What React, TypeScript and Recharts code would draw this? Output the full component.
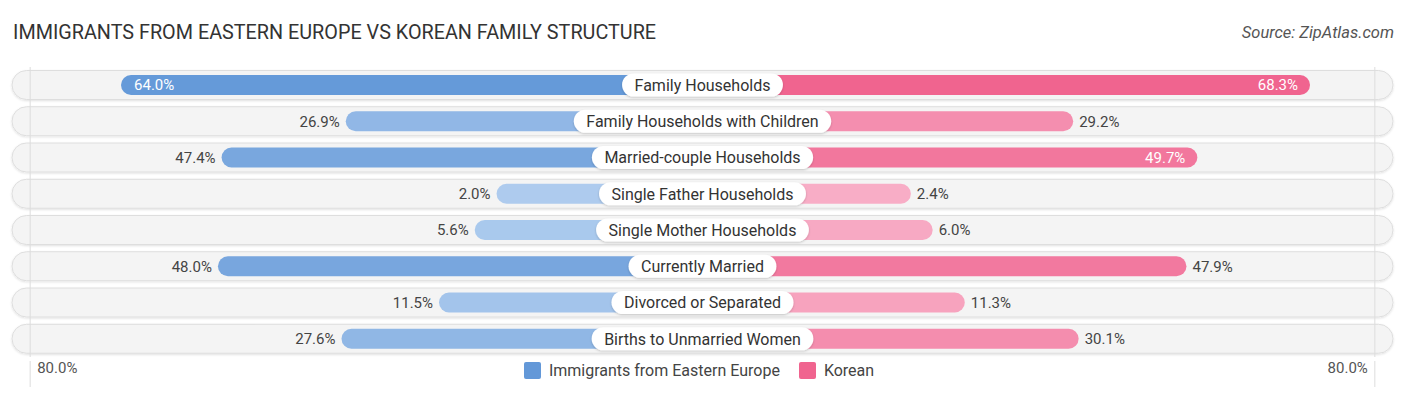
import { BarChart, Bar, XAxis, YAxis, Cell, LabelList, ReferenceLine } from 'recharts';

const categories = [
  'Family Households',
  'Family Households with Children',
  'Married-couple Households',
  'Single Father Households',
  'Single Mother Households',
  'Currently Married',
  'Divorced or Separated',
  'Births to Unmarried Women',
];
const easternEurope = [64.0, 26.9, 47.4, 2.0, 5.6, 48.0, 11.5, 27.6];
const korean = [68.3, 29.2, 49.7, 2.4, 6.0, 47.9, 11.3, 30.1];
const axisMax = 80;
const seriesNames = ['Immigrants from Eastern Europe', 'Korean'];

// space reserved in the middle for the category pill, in % units
const OFFSET = 32;
const HALF = 114;
const GRID = 111;

const W = 1406;
const H = 395;
const FONT = 'Roboto, "Open Sans", sans-serif';

const data = categories.map((name, i) => ({ name, left: easternEurope[i], right: korean[i] }));

const BLUE_DARK = '#6398d8';
const BLUE_LIGHT = '#b0cdef';
const PINK_DARK = '#f0648f';
const PINK_LIGHT = '#f8b0c8';

function hex(c: string) {
  return [1, 3, 5].map((i) => parseInt(c.slice(i, i + 2), 16));
}
function mix(a: string, b: string, t: number) {
  const A = hex(a);
  const B = hex(b);
  const k = Math.max(0, Math.min(1, t));
  return 'rgb(' + A.map((v, i) => Math.round(v * k + B[i] * (1 - k))).join(',') + ')';
}

let ctx: CanvasRenderingContext2D | null = null;
function textWidth(s: string, font: string) {
  if (!ctx) ctx = document.createElement('canvas').getContext('2d');
  if (!ctx) return s.length * 8;
  ctx.font = font;
  return ctx.measureText(s).width;
}

function Track(props: any) {
  const { x, y, width, height } = props;
  const h = 29;
  const ty = y + height / 2 - h / 2;
  return (
    <rect
      x={x}
      y={ty}
      width={width}
      height={h}
      rx={h / 2}
      fill="#f4f4f4"
      stroke="#dedede"
      strokeWidth={1}
      filter="url(#trackShadow)"
    />
  );
}

function valueLabel(side: 'left' | 'right') {
  return (props: any) => {
    const { x, y, width, height, value } = props;
    const x0 = Math.min(Number(x), Number(x) + Number(width));
    const x1 = Math.max(Number(x), Number(x) + Number(width));
    const cy = Number(y) + Number(height) / 2;
    const inside = value > 49;
    let tx: number;
    let anchor: 'start' | 'end';
    if (side === 'left') {
      tx = inside ? x0 + 13 : x0 - 6;
      anchor = inside ? 'start' : 'end';
    } else {
      tx = inside ? x1 - 12 : x1 + 6;
      anchor = inside ? 'end' : 'start';
    }
    return (
      <text
        x={tx}
        y={cy}
        dy="0.36em"
        textAnchor={anchor}
        fill={inside ? '#ffffff' : '#444444'}
        fontSize={15}
        fontFamily={FONT}
      >
        {Number(value).toFixed(1)}%
      </text>
    );
  };
}

function CategoryPill(props: any) {
  const { x, y, width, height, value } = props;
  const cx = Math.min(Number(x), Number(x) + Number(width));
  const cy = Number(y) + Number(height) / 2;
  const tw = textWidth(String(value), `16px ${FONT}`);
  const pw = tw + 25;
  const ph = 23;
  return (
    <g>
      <rect
        x={cx - pw / 2}
        y={cy - ph / 2}
        width={pw}
        height={ph}
        rx={ph / 2}
        fill="#ffffff"
        filter="url(#pillShadow)"
      />
      <text x={cx} y={cy} dy="0.36em" textAnchor="middle" fill="#333333" fontSize={16} fontFamily={FONT}>
        {value}
      </text>
    </g>
  );
}

function AxisTick(props: any) {
  const { x, y, payload } = props;
  const isLeft = payload.value < 0;
  return (
    <g>
      <line x1={x} x2={x} y1={y - 4} y2={y + 22} stroke="#dddddd" strokeWidth={1} />
      <text
        x={isLeft ? x + 7 : x - 7}
        y={y + 8}
        textAnchor={isLeft ? 'start' : 'end'}
        fill="#555555"
        fontSize={15}
        fontFamily={FONT}
      >
        {axisMax.toFixed(1)}%
      </text>
    </g>
  );
}

export default function App() {
  return (
    <div style={{ position: 'absolute', left: 0, top: 0, width: W, height: H, fontFamily: FONT, background: '#fff' }}>
      <div style={{ position: 'absolute', left: 13, top: 21, fontSize: 19.8, color: '#333', letterSpacing: 0 }}>
        IMMIGRANTS FROM EASTERN EUROPE VS KOREAN FAMILY STRUCTURE
      </div>
      <div style={{ position: 'absolute', right: 12, top: 23, fontSize: 16.5, color: '#555', fontStyle: 'italic' }}>
        Source: ZipAtlas.com
      </div>

      <BarChart
        width={W}
        height={H}
        data={data}
        layout="vertical"
        stackOffset="sign"
        barSize={20}
        margin={{ top: 67, right: 13, bottom: 18, left: 12 }}
      >
        <defs>
          <filter id="trackShadow" x="-5%" y="-30%" width="110%" height="160%">
            <feDropShadow dx="0" dy="1" stdDeviation="1" floodColor="#000" floodOpacity="0.12" />
          </filter>
          <filter id="pillShadow" x="-20%" y="-40%" width="140%" height="180%">
            <feDropShadow dx="0" dy="1" stdDeviation="1.2" floodColor="#000" floodOpacity="0.2" />
          </filter>
        </defs>
        <ReferenceLine x={-GRID} stroke="#dddddd" strokeWidth={1} />
        <ReferenceLine x={GRID} stroke="#dddddd" strokeWidth={1} />
        <XAxis
          type="number"
          domain={[-HALF, HALF]}
          ticks={[-GRID, GRID]}
          axisLine={false}
          tickLine={false}
          height={20}
          tick={<AxisTick />}
        />
        <YAxis type="category" dataKey="name" hide />
        <Bar
          dataKey={(d: any) => -(d.left + OFFSET)}
          stackId="a"
          radius={10}
          background={<Track />}
          isAnimationActive={false}
        >
          {data.map((d, i) => (
            <Cell key={i} fill={mix(BLUE_DARK, BLUE_LIGHT, d.left / 66)} />
          ))}
          <LabelList dataKey="left" content={valueLabel('left')} />
        </Bar>
        <Bar dataKey={(d: any) => d.right + OFFSET} stackId="a" radius={10} isAnimationActive={false}>
          {data.map((d, i) => (
            <Cell key={i} fill={mix(PINK_DARK, PINK_LIGHT, d.right / 66)} />
          ))}
          <LabelList dataKey="right" content={valueLabel('right')} />
          <LabelList dataKey="name" content={<CategoryPill />} />
        </Bar>
      </BarChart>

      <div
        style={{
          position: 'absolute',
          left: 0,
          top: 361,
          width: W - 8,
          display: 'flex',
          justifyContent: 'center',
          alignItems: 'center',
          fontSize: 16,
          color: '#444',
        }}
      >
        {seriesNames.map((s, i) => (
          <div key={s} style={{ display: 'flex', alignItems: 'center', marginLeft: i ? 19 : 0 }}>
            <span
              style={{
                width: 17,
                height: 17,
                borderRadius: 2,
                marginRight: 8,
                background: i ? PINK_DARK : BLUE_DARK,
                display: 'inline-block',
              }}
            />
            <span>{s}</span>
          </div>
        ))}
      </div>
    </div>
  );
}
